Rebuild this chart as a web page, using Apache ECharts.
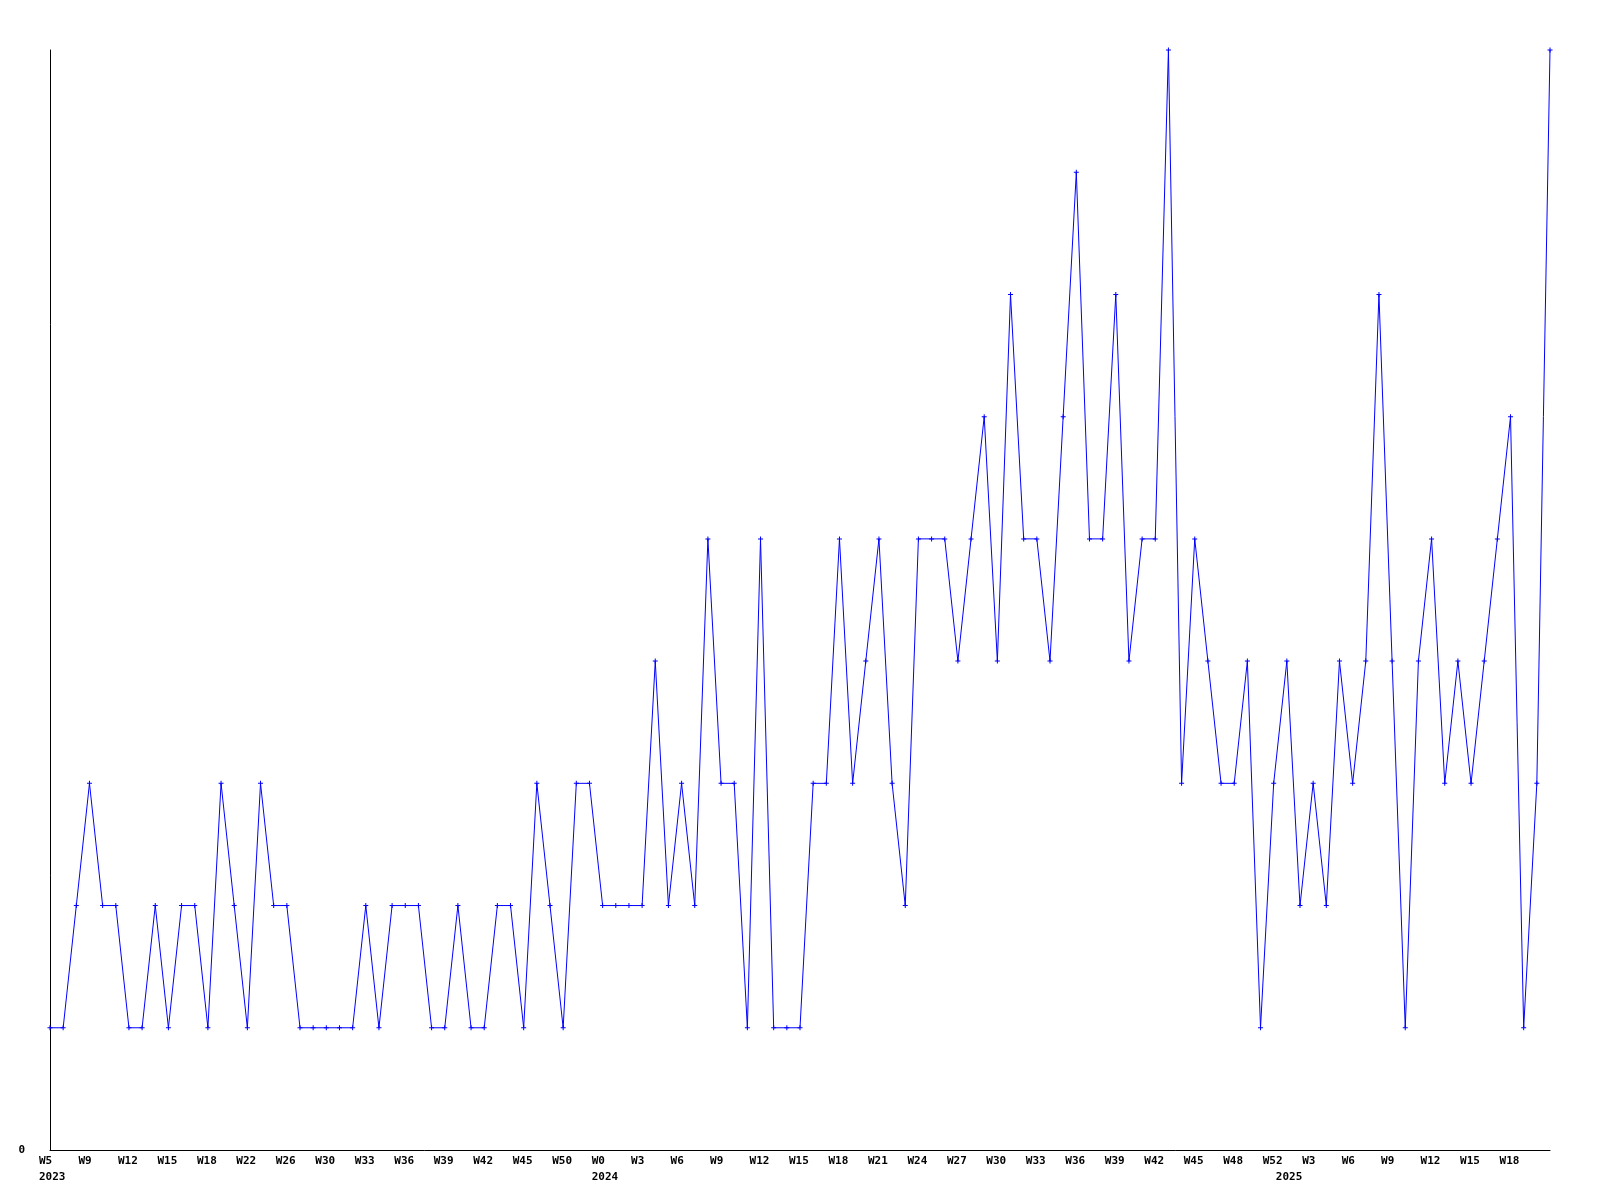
<!DOCTYPE html>
<html>
<head>
<meta charset="utf-8">
<script src="https://cdn.jsdelivr.net/npm/echarts@6/dist/echarts.min.js"></script>
<style>
html,body{margin:0;padding:0;background:#fff;}
#chart{width:1600px;height:1200px;}
</style>
</head>
<body>
<div id="chart"></div>
<script>
// Week labels shown on every third point
const weekLabels = ['W5','W9','W12','W15','W18','W22','W26','W30','W33','W36','W39','W42','W45','W50',
  'W0','W3','W6','W9','W12','W15','W18','W21','W24','W27','W30','W33','W36','W39','W42','W45','W48','W52',
  'W3','W6','W9','W12','W15','W18'];
const labelStep = 3;
// Year labels: point index -> year
const yearIndex = [0, 42, 94];
const yearText = ['2023', '2024', '2025'];
// Values per point
const values = [
  1,1,2,3,2,2,1,1,2,1,
  2,2,1,3,2,1,3,2,2,1,
  1,1,1,1,2,1,2,2,2,1,
  1,2,1,1,2,2,1,3,2,1,
  3,3,2,2,2,2,4,2,3,2,
  5,3,3,1,5,1,1,1,3,3,
  5,3,4,5,3,2,5,5,5,4,
  5,6,4,7,5,5,4,6,8,5,
  5,7,4,5,5,9,3,5,4,3,
  3,4,1,3,4,2,3,2,4,3,
  4,7,4,1,4,5,3,4,3,4,
  5,6,1,3,9
];
const yMin = 0, yMax = 9;

const categories = values.map((v, i) => {
  const wk = (i % labelStep === 0 && weekLabels[i / labelStep] !== undefined) ? weekLabels[i / labelStep] : '';
  const yi = yearIndex.indexOf(i);
  const yr = yi >= 0 ? yearText[yi] : '';
  return wk + '|' + yr;
});

const font = 'DejaVu Sans Mono';
const chart = echarts.init(document.getElementById('chart'), null, {renderer: 'canvas'});
chart.setOption({
  backgroundColor: '#ffffff',
  animation: false,
  grid: {left: 50, right: 50, top: 50, bottom: 50, containLabel: false},
  xAxis: {
    type: 'category',
    data: categories,
    boundaryGap: false,
    axisLine: {show: true, lineStyle: {color: '#000', width: 1}},
    axisTick: {show: false},
    splitLine: {show: false},
    axisLabel: {
      show: true,
      interval: (idx, val) => val !== '|',
      margin: 3,
      hideOverlap: false,
      formatter: (val) => {
        const parts = val.split('|');
        const wk = parts[0] || ' ';
        return parts[1] ? '{a|' + wk + '}\n{a|' + parts[1] + '}' : '{a|' + wk + '}';
      },
      rich: {
        a: {width: 22, align: 'left', fontFamily: font, fontSize: 11, fontWeight: 'bold', lineHeight: 16, color: '#000'}
      }
    }
  },
  yAxis: {
    type: 'value',
    min: yMin,
    max: yMax,
    interval: 9,
    axisLine: {show: true, lineStyle: {color: '#000', width: 1}},
    axisTick: {show: false},
    splitLine: {show: false},
    axisLabel: {
      show: true,
      margin: 25,
      fontFamily: font,
      fontSize: 11,
      fontWeight: 'bold',
      color: '#000',
      formatter: (v) => v === 0 ? '0' : ''
    }
  },
  series: [{
    type: 'line',
    data: values,
    symbol: 'path://M2,0H3V2H5V3H3V5H2V3H0V2H2Z',
    symbolSize: 5,
    showSymbol: true,
    showAllSymbol: true,
    lineStyle: {color: '#0000ff', width: 1},
    itemStyle: {color: '#0000ff', borderWidth: 0},
    emphasis: {disabled: true}
  }]
});
</script>
</body>
</html>
